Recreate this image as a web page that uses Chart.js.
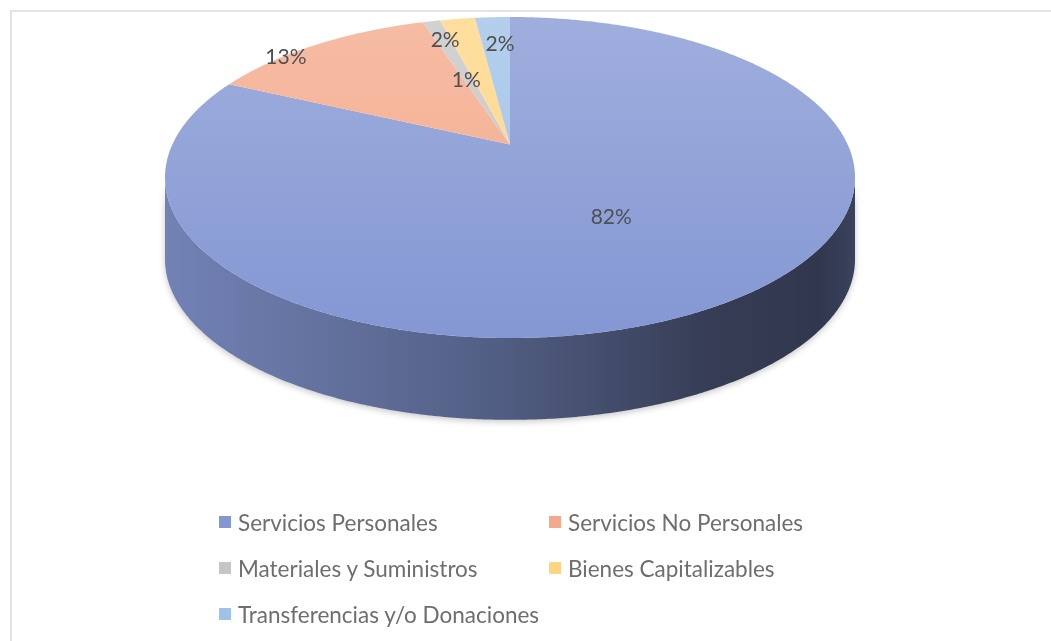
<!DOCTYPE html>
<html lang="es">
<head>
<meta charset="utf-8">
<title>Distribución del gasto por partida</title>
<script src="https://cdn.jsdelivr.net/npm/chart.js@4.4.1/dist/chart.umd.min.js"></script>
<style>
  html, body { margin: 0; padding: 0; background: #fff; }
  body { width: 1051px; height: 641px; position: relative; overflow: hidden; font-family: Lato, "Open Sans", sans-serif; }
  .marco { position: absolute; left: 10px; top: 10px; width: 1200px; height: 800px; border-top: 2px solid #e3e3e3; border-left: 2px solid #e3e3e3; }
  #pastel { position: absolute; left: 0; top: 0; }
  .leyenda { position: absolute; left: 219px; top: 499px; display: grid; grid-template-columns: 330px 330px; }
  .leyenda div { display: flex; align-items: center; height: 46px; color: #6e6e6e; font-size: 22.5px; white-space: nowrap; }
  .leyenda i { display: inline-block; width: 12px; height: 12px; margin-right: 7px; }
</style>
</head>
<body>
<div class="marco"></div>
<canvas id="pastel" width="1051" height="641"></canvas>
<div class="leyenda" id="leyenda"></div>
<script>
const categorias = ['Servicios Personales', 'Servicios No Personales', 'Materiales y Suministros', 'Bienes Capitalizables', 'Transferencias y/o Donaciones'];
const porcentajes = [82, 13, 1, 2, 2];
const colores = ['#8497d3', '#f4a98a', '#c5c5c5', '#ffd584', '#9fc2e8'];

function rgb(hex) {
    const n = parseInt(hex.slice(1), 16);
    return [n >> 16 & 255, n >> 8 & 255, n & 255];
}
function shade(hex, k) {
    return 'rgb(' + rgb(hex).map(v => Math.round(Math.min(255, v * k))) + ')';
}
function tint(hex, t) {
    return 'rgb(' + rgb(hex).map(v => Math.round(v + (255 - v) * t)) + ')';
}

// geometría de la elipse en perspectiva, ajustada al área del gráfico
function geometria(area, k) {
    const A = area.width / 2 * Math.sqrt(1 - k * k);
    const B = area.height / 2 * (1 - k * k);
    return { k, A, B, cx: (area.left + area.right) / 2, cy: area.top + B / (1 + k) };
}

// punto del disco (ángulo a, fracción f del radio) proyectado en pantalla
function proyectar(geo, a, f = 1) {
    const u = f * Math.cos(a), v = f * Math.sin(a);
    const w = 1 - geo.k * v;
    return [geo.cx + geo.A * u / w, geo.cy + geo.B * v / w];
}

function borde(ctx, geo, a1, a2, dy, mover) {
    const n = Math.max(2, Math.ceil(Math.abs(a2 - a1) / 0.008));
    for (let j = 0; j <= n; j++) {
        const [x, y] = proyectar(geo, a1 + (a2 - a1) * j / n);
        if (j === 0 && mover) ctx.moveTo(x, y + dy);
        else ctx.lineTo(x, y + dy);
    }
}

// pastel 3D: los ángulos vienen de los arcos que calcula Chart.js
const pastel3d = {
    id: 'pastel3d',
    beforeDatasetDraw() {
        return false;
    },
    afterDatasetsDraw(chart, args, opts) {
        const { ctx, chartArea } = chart;
        const arcs = chart.getDatasetMeta(0).data;
        if (!arcs.length) return;
        const geo = geometria(chartArea, opts.perspective);
        const depth = chartArea.height * opts.depth;
        const frente = Math.asin(geo.k);
        const values = chart.data.datasets[0].data;
        const total = values.reduce((a, b) => a + b, 0);
        const angulos = arcs.map(arc => arc.getProps(['startAngle', 'endAngle'], true));

        // canto frontal
        ctx.save();
        ctx.shadowColor = 'rgba(0,0,0,0.22)';
        ctx.shadowBlur = 6;
        ctx.shadowOffsetY = 2;
        angulos.forEach(({ startAngle, endAngle }, i) => {
            const a1 = Math.max(startAngle, frente);
            const a2 = Math.min(endAngle, Math.PI - frente);
            if (a2 <= a1) return;
            const base = colores[i];
            const g = ctx.createLinearGradient(chartArea.left, 0, chartArea.right, 0);
            g.addColorStop(0, shade(base, 0.86));
            g.addColorStop(0.45, shade(base, 0.64));
            g.addColorStop(0.8, shade(base, 0.40));
            g.addColorStop(0.95, shade(base, 0.37));
            g.addColorStop(1, shade(base, 0.44));
            ctx.beginPath();
            borde(ctx, geo, a1, a2, 0, true);
            borde(ctx, geo, a2, a1, depth, false);
            ctx.closePath();
            ctx.fillStyle = g;
            ctx.fill();
        });
        ctx.restore();

        // cara superior
        angulos.forEach(({ startAngle, endAngle }, i) => {
            const base = colores[i];
            const g = ctx.createLinearGradient(0, chartArea.top, 0, chartArea.bottom);
            g.addColorStop(0, tint(base, 0.22));
            g.addColorStop(1, base);
            ctx.beginPath();
            ctx.moveTo(...proyectar(geo, 0, 0));
            borde(ctx, geo, startAngle, endAngle, 0, false);
            ctx.closePath();
            ctx.fillStyle = g;
            ctx.fill();
        });

        // etiquetas de porcentaje
        ctx.save();
        ctx.font = opts.font;
        ctx.fillStyle = opts.color;
        ctx.textAlign = 'center';
        ctx.textBaseline = 'middle';
        angulos.forEach(({ startAngle, endAngle }, i) => {
            const a = (startAngle + endAngle) / 2 + opts.turn[i] * Math.PI / 180;
            const [lx, ly] = proyectar(geo, a, opts.radius[i]);
            ctx.fillText(Math.round(values[i] / total * 100) + '%', lx, ly);
        });
        ctx.restore();
    }
};

new Chart(document.getElementById('pastel'), {
    type: 'pie',
    data: {
        labels: categorias,
        datasets: [{
            data: porcentajes,
            backgroundColor: colores,
            borderWidth: 0
        }]
    },
    options: {
        responsive: false,
        animation: false,
        events: [],
        layout: {
            padding: { left: 165, right: 196, top: 17, bottom: 303 }
        },
        plugins: {
            legend: { display: false },
            tooltip: { enabled: false },
            pastel3d: {
                perspective: 0.206,
                depth: 0.255,
                font: '21px Lato, "Open Sans", sans-serif',
                color: '#505050',
                radius: [0.51, 0.99, 0.48, 0.82, 0.75],
                turn: [0, -8, -1, -5, 1]
            }
        }
    },
    plugins: [pastel3d]
});

// leyenda en dos columnas
const leyenda = document.getElementById('leyenda');
categorias.forEach((nombre, i) => {
    const item = document.createElement('div');
    const marca = document.createElement('i');
    marca.style.background = colores[i];
    item.appendChild(marca);
    item.appendChild(document.createTextNode(nombre));
    leyenda.appendChild(item);
});
</script>
</body>
</html>
